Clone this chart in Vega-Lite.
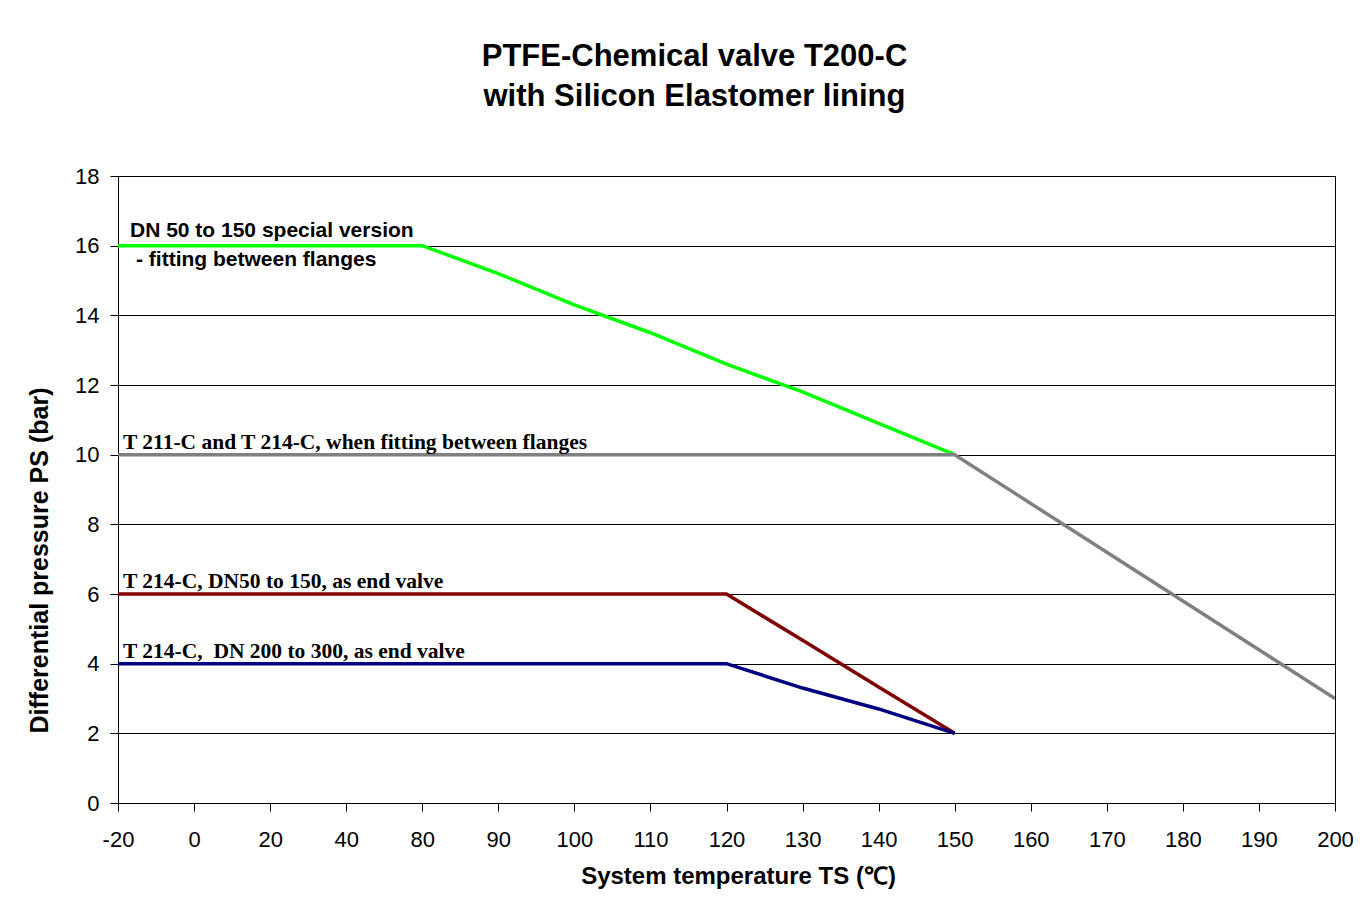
{
  "$schema": "https://vega.github.io/schema/vega-lite/v6.json",
  "autosize": "none",
  "width": 1217,
  "height": 627,
  "padding": {"left": 118, "top": 176, "right": 26, "bottom": 102},
  "background": "white",
  "config": {
    "view": {"stroke": "black", "strokeWidth": 1},
    "font": "Liberation Sans"
  },
  "title": {
    "text": ["PTFE-Chemical valve T200-C", "with Silicon Elastomer lining"],
    "font": "Liberation Sans",
    "fontSize": 31,
    "fontWeight": "bold",
    "color": "black",
    "anchor": "middle",
    "dx": -32,
    "offset": 52,
    "lineHeight": 40
  },
  "datasets": {
    "series": [
      {"s": "green", "t": "-20", "v": 16},
      {"s": "green", "t": "0", "v": 16},
      {"s": "green", "t": "20", "v": 16},
      {"s": "green", "t": "40", "v": 16},
      {"s": "green", "t": "80", "v": 16},
      {"s": "green", "t": "90", "v": 15.2},
      {"s": "green", "t": "100", "v": 14.3},
      {"s": "green", "t": "110", "v": 13.5},
      {"s": "green", "t": "120", "v": 12.6},
      {"s": "green", "t": "130", "v": 11.8},
      {"s": "green", "t": "140", "v": 10.9},
      {"s": "green", "t": "150", "v": 10},
      {"s": "gray", "t": "-20", "v": 10},
      {"s": "gray", "t": "0", "v": 10},
      {"s": "gray", "t": "20", "v": 10},
      {"s": "gray", "t": "40", "v": 10},
      {"s": "gray", "t": "80", "v": 10},
      {"s": "gray", "t": "90", "v": 10},
      {"s": "gray", "t": "100", "v": 10},
      {"s": "gray", "t": "110", "v": 10},
      {"s": "gray", "t": "120", "v": 10},
      {"s": "gray", "t": "130", "v": 10},
      {"s": "gray", "t": "140", "v": 10},
      {"s": "gray", "t": "150", "v": 10},
      {"s": "gray", "t": "160", "v": 8.6},
      {"s": "gray", "t": "170", "v": 7.2},
      {"s": "gray", "t": "180", "v": 5.8},
      {"s": "gray", "t": "190", "v": 4.4},
      {"s": "gray", "t": "200", "v": 3},
      {"s": "red", "t": "-20", "v": 6},
      {"s": "red", "t": "0", "v": 6},
      {"s": "red", "t": "20", "v": 6},
      {"s": "red", "t": "40", "v": 6},
      {"s": "red", "t": "80", "v": 6},
      {"s": "red", "t": "90", "v": 6},
      {"s": "red", "t": "100", "v": 6},
      {"s": "red", "t": "110", "v": 6},
      {"s": "red", "t": "120", "v": 6},
      {"s": "red", "t": "130", "v": 4.67},
      {"s": "red", "t": "140", "v": 3.33},
      {"s": "red", "t": "150", "v": 2},
      {"s": "blue", "t": "-20", "v": 4},
      {"s": "blue", "t": "0", "v": 4},
      {"s": "blue", "t": "20", "v": 4},
      {"s": "blue", "t": "40", "v": 4},
      {"s": "blue", "t": "80", "v": 4},
      {"s": "blue", "t": "90", "v": 4},
      {"s": "blue", "t": "100", "v": 4},
      {"s": "blue", "t": "110", "v": 4},
      {"s": "blue", "t": "120", "v": 4},
      {"s": "blue", "t": "130", "v": 3.3},
      {"s": "blue", "t": "140", "v": 2.7},
      {"s": "blue", "t": "150", "v": 2}
    ],
    "serifLabels": [
      {"t": "-20", "v": 10, "label": "T 211-C and T 214-C, when fitting between flanges"},
      {"t": "-20", "v": 6, "label": "T 214-C, DN50 to 150, as end valve"},
      {"t": "-20", "v": 4, "label": "T 214-C,\u00a0 DN 200 to 300, as end valve"}
    ],
    "sansLabel": [
      {"t": "-20", "v": 16, "l1": "DN 50 to 150 special version", "l2": "- fitting between flanges"}
    ]
  },
  "encoding": {
    "x": {
      "field": "t",
      "type": "ordinal",
      "sort": ["-20", "0", "20", "40", "80", "90", "100", "110", "120", "130", "140", "150", "160", "170", "180", "190", "200"],
      "scale": {
        "type": "point",
        "padding": 0,
        "domain": ["-20", "0", "20", "40", "80", "90", "100", "110", "120", "130", "140", "150", "160", "170", "180", "190", "200"]
      },
      "axis": {
        "title": "System temperature TS (℃)",
        "titleFont": "Liberation Sans",
        "titleFontSize": 24,
        "titleFontWeight": "bold",
        "titleColor": "black",
        "titlePadding": 14,
        "titleX": 620,
        "labelAngle": 0,
        "labelFont": "Liberation Sans",
        "labelFontSize": 22,
        "labelColor": "black",
        "labelPadding": 18,
        "tickSize": 8,
        "tickColor": "black",
        "domainColor": "black",
        "grid": false
      }
    },
    "y": {
      "field": "v",
      "type": "quantitative",
      "scale": {"domain": [0, 18], "nice": false, "zero": true},
      "axis": {
        "title": "Differential pressure PS (bar)",
        "titleFont": "Liberation Sans",
        "titleFontSize": 25,
        "titleFontWeight": "bold",
        "titleColor": "black",
        "titlePadding": 22,
        "titleY": 384,
        "values": [0, 2, 4, 6, 8, 10, 12, 14, 16, 18],
        "labelFont": "Liberation Sans",
        "labelFontSize": 22,
        "labelColor": "black",
        "labelPadding": 11,
        "tickSize": 8,
        "tickColor": "black",
        "domainColor": "black",
        "grid": true,
        "gridColor": "black",
        "gridWidth": 1
      }
    }
  },
  "layer": [
    {
      "data": {"name": "series"},
      "mark": {"type": "line", "strokeWidth": 3.5, "clip": true},
      "encoding": {
        "color": {
          "field": "s",
          "type": "nominal",
          "scale": {"domain": ["gray", "green", "red", "blue"], "range": ["#808080", "#00FF00", "#800000", "#000080"]},
          "legend": null
        },
        "order": {"value": null}
      }
    },
    {
      "data": {"name": "serifLabels"},
      "mark": {"type": "text", "align": "left", "baseline": "alphabetic", "dx": 5, "dy": -6, "font": "Liberation Serif", "fontSize": 21.5, "fontWeight": "bold", "color": "black"},
      "encoding": {"text": {"field": "label"}}
    },
    {
      "data": {"name": "sansLabel"},
      "mark": {"type": "text", "align": "left", "baseline": "alphabetic", "dx": 12, "dy": -9, "font": "Liberation Sans", "fontSize": 21, "fontWeight": "bold", "color": "black"},
      "encoding": {"text": {"field": "l1"}}
    },
    {
      "data": {"name": "sansLabel"},
      "mark": {"type": "text", "align": "left", "baseline": "alphabetic", "dx": 18, "dy": 20, "font": "Liberation Sans", "fontSize": 21, "fontWeight": "bold", "color": "black"},
      "encoding": {"text": {"field": "l2"}}
    }
  ]
}
